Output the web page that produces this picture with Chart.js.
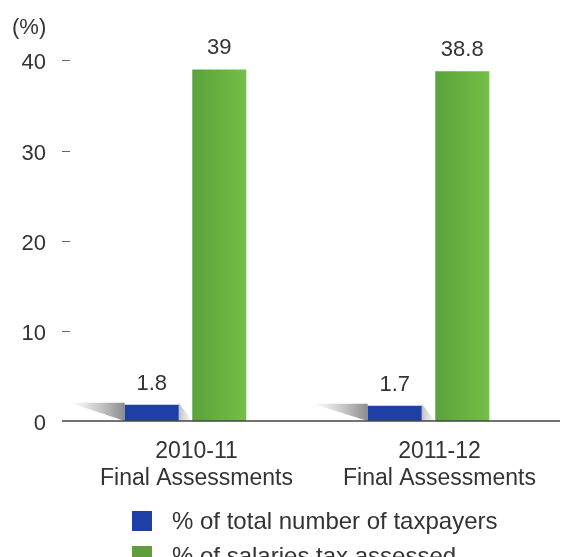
<!DOCTYPE html>
<html>
<head>
<meta charset="utf-8">
<script src="https://cdn.jsdelivr.net/npm/chart.js@4/dist/chart.umd.min.js"></script>
<style>
  html, body { margin: 0; padding: 0; background: #fff; }
  #wrap { position: relative; width: 564px; height: 557px; overflow: hidden; font-family: "Liberation Sans", Arial, sans-serif; }
  #legend { position: absolute; left: 132px; top: 503px; color: #333; font-size: 24px; }
  .row { display: flex; align-items: center; height: 35px; }
  .box { width: 20px; height: 20px; margin-right: 20px; }
</style>
</head>
<body>
<div id="wrap">
  <canvas id="chart" width="564" height="557"></canvas>
  <div id="legend"></div>
</div>
<script>
const categories = [['2010-11', 'Final Assessments'], ['2011-12', 'Final Assessments']];
const seriesNames = ['% of total number of taxpayers', '% of salaries tax assessed'];
const taxpayerShare = [1.8, 1.7];
const salariesTaxShare = [39, 38.8];
const yTicks = [0, 10, 20, 30, 40];

const blue = '#1e3fa6';
const green = '#66ae40';
const textColor = '#333';
const fontFamily = '"Liberation Sans", Arial, sans-serif';

// legend as html, two stacked rows like the original
const legendEl = document.getElementById('legend');
[[blue, seriesNames[0]], ['#5f9e3a', seriesNames[1]]].forEach(function(item) {
    const row = document.createElement('div');
    row.className = 'row';
    row.innerHTML = '<div class="box" style="background:' + item[0] + '"></div><span>' + item[1] + '</span>';
    legendEl.appendChild(row);
});

const decorPlugin = {
    id: 'decor',
    beforeDatasetsDraw(chart) {
        const ctx = chart.ctx;
        const blueBars = chart.getDatasetMeta(0).data;
        const greenBars = chart.getDatasetMeta(1).data;
        const base = chart.scales.y.getPixelForValue(0);

        // gradient on the green bars (options objects are shared, so copy them)
        greenBars.forEach(function(bar) {
            const g = ctx.createLinearGradient(bar.x - bar.width / 2, 0, bar.x + bar.width / 2, 0);
            g.addColorStop(0, '#5aa23b');
            g.addColorStop(1, '#74bf46');
            bar.options = Object.assign({}, bar.options, { backgroundColor: g });
        });

        // floor shadows next to the small bars
        blueBars.forEach(function(bar, i) {
            const left = bar.x - bar.width / 2;
            const right = bar.x + bar.width / 2;
            const top = bar.y - 2;
            ctx.save();
            let g = ctx.createLinearGradient(left - 55, 0, left, 0);
            g.addColorStop(0, 'rgba(140,140,140,0)');
            g.addColorStop(1, 'rgba(100,100,100,0.75)');
            ctx.fillStyle = g;
            ctx.beginPath();
            ctx.moveTo(left - 55, top);
            ctx.lineTo(left, top);
            ctx.lineTo(left, base);
            ctx.closePath();
            ctx.fill();

            const gl = greenBars[i].x - greenBars[i].width / 2;
            g = ctx.createLinearGradient(right, 0, gl, 0);
            g.addColorStop(0, 'rgba(150,150,150,0.6)');
            g.addColorStop(1, 'rgba(200,200,200,0.15)');
            ctx.fillStyle = g;
            ctx.beginPath();
            ctx.moveTo(right, top);
            ctx.lineTo(gl, base);
            ctx.lineTo(right, base);
            ctx.closePath();
            ctx.fill();
            ctx.restore();
        });
    },
    afterDatasetsDraw(chart) {
        const ctx = chart.ctx;
        const area = chart.chartArea;
        const y = chart.scales.y;
        ctx.save();
        // baseline
        ctx.strokeStyle = '#444';
        ctx.lineWidth = 1.5;
        ctx.beginPath();
        ctx.moveTo(area.left - 2, y.getPixelForValue(0));
        ctx.lineTo(chart.width - 4, y.getPixelForValue(0));
        ctx.stroke();
        // little tick dashes
        ctx.lineWidth = 1;
        ctx.strokeStyle = '#666';
        yTicks.forEach(function(v) {
            if (v === 0) return;
            const py = Math.round(y.getPixelForValue(v)) + 0.5;
            ctx.beginPath();
            ctx.moveTo(area.left - 2, py);
            ctx.lineTo(area.left + 6, py);
            ctx.stroke();
        });
        // value labels
        ctx.fillStyle = textColor;
        ctx.font = '22px ' + fontFamily;
        ctx.textAlign = 'center';
        ctx.textBaseline = 'bottom';
        chart.data.datasets.forEach(function(ds, di) {
            chart.getDatasetMeta(di).data.forEach(function(bar, i) {
                ctx.fillText(String(ds.data[i]), bar.x, bar.y - 10);
            });
        });
        ctx.restore();
    }
};

new Chart(document.getElementById('chart'), {
    type: 'bar',
    data: {
        labels: categories,
        datasets: [
            { label: seriesNames[0], data: taxpayerShare, backgroundColor: blue },
            { label: seriesNames[1], data: salariesTaxShare, backgroundColor: green }
        ]
    },
    options: {
        responsive: false,
        animation: false,
        categoryPercentage: 0.556,
        barPercentage: 0.8,
        layout: { padding: { left: 12, right: 14, top: 2, bottom: 65 } },
        plugins: {
            legend: { display: false },
            tooltip: { enabled: false },
            title: {
                display: true,
                text: '(%)',
                align: 'start',
                color: textColor,
                font: { family: fontFamily, size: 22, weight: 'normal' },
                padding: { top: 13, bottom: 19 }
            }
        },
        scales: {
            x: {
                grid: { display: false, drawTicks: false },
                border: { display: false },
                ticks: {
                    color: textColor,
                    font: { family: fontFamily, size: 23, lineHeight: 1.17 },
                    padding: 17,
                    labelOffset: 11,
                    maxRotation: 0
                },
                afterFit(scale) { scale.height = 71; }
            },
            y: {
                min: 0,
                max: 40,
                grid: { display: false, drawTicks: false },
                border: { display: false },
                ticks: {
                    stepSize: 10,
                    color: textColor,
                    font: { family: fontFamily, size: 22 },
                    padding: 18,
                    labelOffset: 3
                },
                afterFit(scale) { scale.width = 52; }
            }
        }
    },
    plugins: [decorPlugin]
});
</script>
</body>
</html>
